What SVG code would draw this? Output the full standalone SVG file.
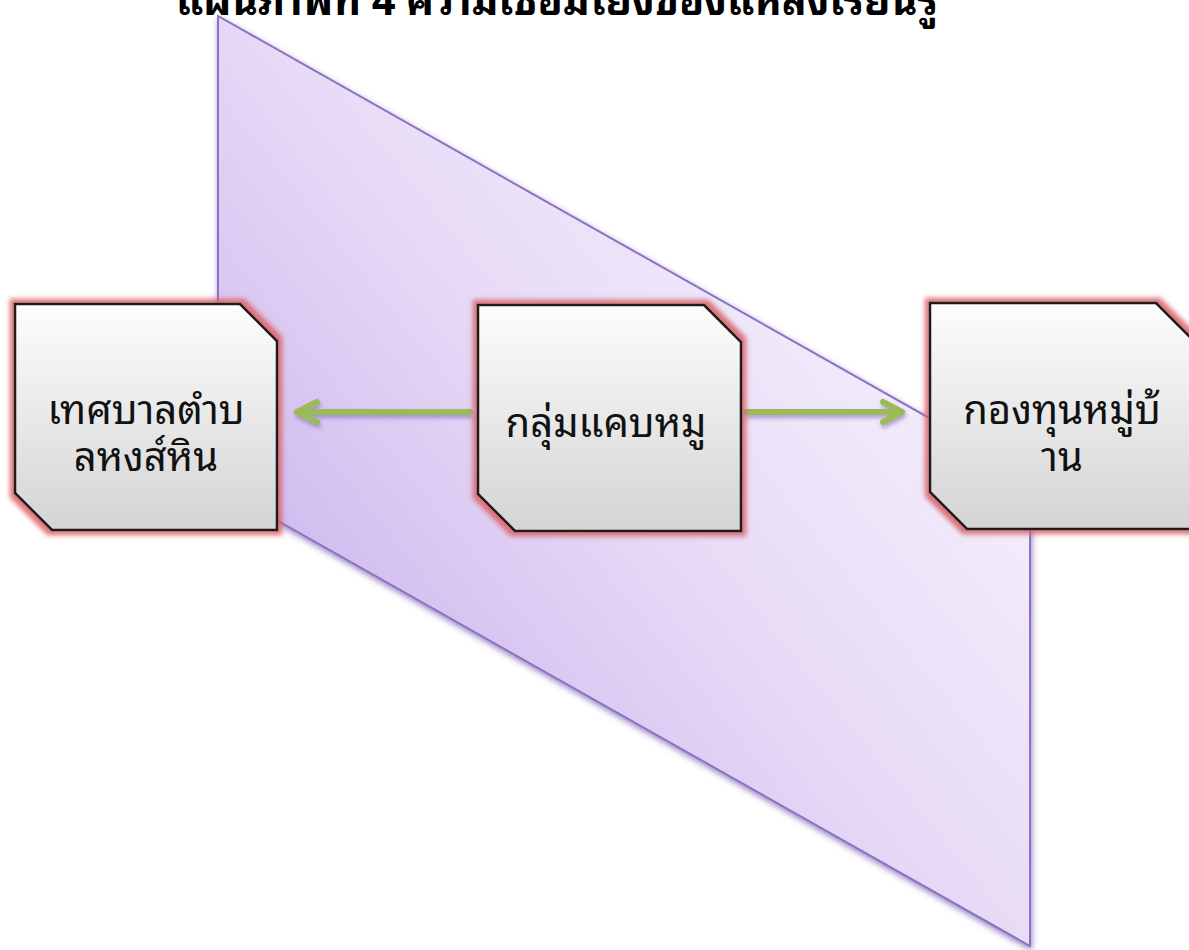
<svg xmlns="http://www.w3.org/2000/svg" width="1189" height="950" viewBox="0 0 1189 950">
<defs>
<linearGradient id="pg" x1="0.85" y1="0.2" x2="0.15" y2="0.85">
<stop offset="0" stop-color="#f7f3fd"/>
<stop offset="0.5" stop-color="#e6d9f6"/>
<stop offset="1" stop-color="#c8b0ec"/>
</linearGradient>
<linearGradient id="ng" x1="0" y1="0" x2="0" y2="1">
<stop offset="0" stop-color="#fdfdfd"/>
<stop offset="1" stop-color="#d4d4d4"/>
</linearGradient>
<filter id="pshadow" x="-10%" y="-10%" width="120%" height="120%">
<feGaussianBlur in="SourceAlpha" stdDeviation="3"/>
<feOffset dx="1" dy="3" result="b"/>
<feFlood flood-color="#6a4fa8" flood-opacity="0.7"/>
<feComposite in2="b" operator="in" result="s"/>
<feMerge><feMergeNode in="s"/><feMergeNode in="SourceGraphic"/></feMerge>
</filter>
<filter id="glow" x="-10%" y="-10%" width="120%" height="120%">
<feMorphology in="SourceAlpha" operator="dilate" radius="4" result="d"/>
<feGaussianBlur in="d" stdDeviation="2.5" result="b"/>
<feFlood flood-color="#d8676c" flood-opacity="0.9"/>
<feComposite in2="b" operator="in" result="s"/>
<feMerge><feMergeNode in="s"/><feMergeNode in="SourceGraphic"/></feMerge>
</filter>
<filter id="ashadow" x="-10%" y="-50%" width="120%" height="200%">
<feGaussianBlur in="SourceAlpha" stdDeviation="2"/>
<feOffset dx="1" dy="3" result="b"/>
<feFlood flood-color="#6a4fa8" flood-opacity="0.5"/>
<feComposite in2="b" operator="in" result="s"/>
<feMerge><feMergeNode in="s"/><feMergeNode in="SourceGraphic"/></feMerge>
</filter>
</defs>
<style>
.node{fill:url(#ng);stroke:#1a1a1a;stroke-width:2.5;filter:url(#glow)}
.lbl{font-family:"Noto Sans Thai Looped","Loma","Garuda","Noto Sans Thai","Noto Sans","DejaVu Sans",sans-serif;font-size:40px;fill:#111;text-anchor:middle}
.title{font-family:"Noto Sans Thai Looped","Loma","Garuda","Noto Sans Thai","Noto Sans","DejaVu Sans",sans-serif;font-size:41px;font-weight:bold;fill:#000;text-anchor:middle}
.arr{stroke:#9bbb59;stroke-width:6;stroke-linecap:round;stroke-linejoin:round;fill:none}
</style>
<rect width="1189" height="950" fill="#ffffff"/>
<text class="title" x="557" y="15">แผนภาพที่ 4 ความเชื่อมโยงของแหล่งเรียนรู้</text>
<g id="plane">
<polygon points="218,16 1030,475 1030,946 218,487" fill="url(#pg)" stroke="#8c72c4" stroke-width="2" filter="url(#pshadow)"/>
</g>
<g id="connectors" filter="url(#ashadow)">
<path class="arr" d="M470,412 L297,412 M317,402 L297,412 L317,422"/>
<path class="arr" d="M746,412 L902,412 M883,402 L902,412 L883,422"/>
</g>
<g id="node-left">
<polygon class="node" points="15,304 240,304 277,341 277,530 52,530 15,493"/>
<text class="lbl" x="146" y="424">เทศบาลตำบ</text>
<text class="lbl" x="146" y="471">ลหงส์หิน</text>
</g>
<g id="node-center">
<polygon class="node" points="478,305 704,305 741,342 741,531 515,531 478,494"/>
<text class="lbl" x="606" y="437">กลุ่มแคบหมู</text>
</g>
<g id="node-right">
<polygon class="node" points="930,303 1156,303 1193,340 1193,529 967,529 930,492"/>
<text class="lbl" x="1062" y="424">กองทุนหมู่บ้</text>
<text class="lbl" x="1062" y="471">าน</text>
</g>
</svg>
